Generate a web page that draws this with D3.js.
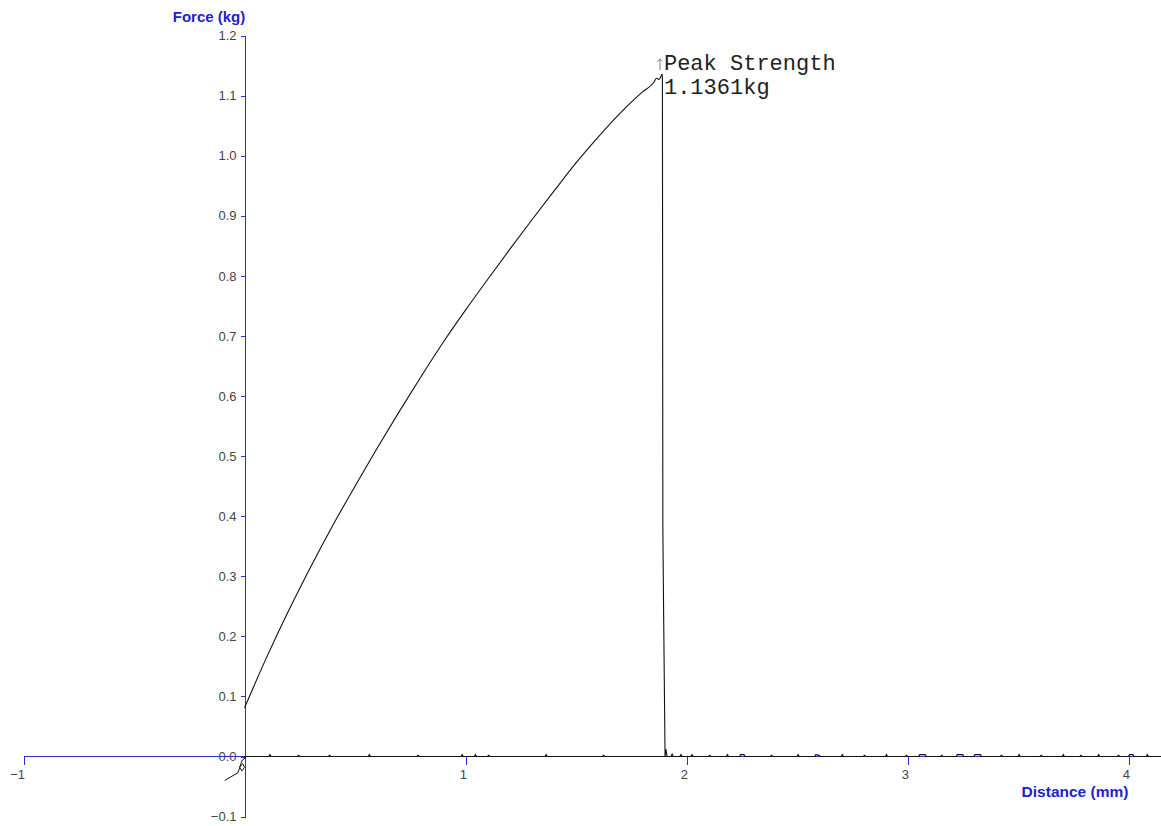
<!DOCTYPE html>
<html>
<head>
<meta charset="utf-8">
<script src="https://cdn.jsdelivr.net/npm/d3@7"></script>
<style>
  html, body { margin: 0; padding: 0; background: #ffffff; }
  svg { display: block; }
</style>
</head>
<body>
<svg id="chart" width="1161" height="826"></svg>
<script>
// ---- Data ----
const xTicks = [-1, 1, 2, 3, 4];
const yTicks = [-0.1, 0.0, 0.1, 0.2, 0.3, 0.4, 0.5, 0.6, 0.7, 0.8, 0.9, 1.0, 1.1, 1.2];

// Small start loop just below the origin
const loopDist  = [-0.09, -0.03, -0.02, -0.008, 0.0, -0.012, -0.022, -0.01, 0.005, 0.0];
const loopForce = [-0.04, -0.027, -0.017, -0.012, -0.018, -0.024, -0.018, -0.006, -0.002, 0.0];

// Loading curve up to the peak
const riseDist  = [0.0, 0.1, 0.2, 0.3, 0.4, 0.5, 0.6, 0.7, 0.8, 0.9, 1.0, 1.1, 1.2, 1.3,
  1.4, 1.5, 1.6, 1.7, 1.8, 1.85, 1.865, 1.875, 1.889];
const riseForce = [0.081, 0.165, 0.243, 0.316, 0.385, 0.450, 0.513, 0.574, 0.633, 0.690,
  0.743, 0.794, 0.844, 0.893, 0.941, 0.988, 1.031, 1.071, 1.106, 1.121, 1.129, 1.127, 1.1361];

// Sudden failure drop
const dropDist  = [1.889, 1.891, 1.893, 1.897, 1.903, 1.907, 1.912];
const dropForce = [1.1361, 1.13, 0.38, 0.22, 0.0, 0.012, 0.0];

// Near-zero trace along the distance axis
const baseDist = [0, 0.11, 0.115, 0.12, 0.24, 0.245, 0.25, 0.38, 0.385, 0.39, 0.56, 0.565, 0.57,
  0.78, 0.785, 0.79, 0.98, 0.985, 0.99, 1.04, 1.045, 1.05, 1.10, 1.105, 1.11, 1.36, 1.365, 1.37,
  1.62, 1.625, 1.63, 1.93, 1.935, 1.94, 1.97, 1.975, 1.98, 2.02, 2.025, 2.03, 2.10, 2.105, 2.11,
  2.18, 2.185, 2.19, 2.24, 2.245, 2.26, 2.265, 2.38, 2.385, 2.39, 2.50, 2.505, 2.51, 2.58, 2.585,
  2.60, 2.605, 2.70, 2.705, 2.71, 2.80, 2.805, 2.81, 2.90, 2.905, 2.91, 2.99, 2.995, 3.00, 3.05,
  3.055, 3.08, 3.085, 3.15, 3.155, 3.16, 3.22, 3.225, 3.25, 3.255, 3.30, 3.305, 3.33, 3.335,
  3.42, 3.425, 3.43, 3.50, 3.505, 3.51, 3.60, 3.605, 3.61, 3.70, 3.705, 3.71, 3.78, 3.785, 3.79,
  3.86, 3.865, 3.87, 3.95, 3.955, 3.96, 4.00, 4.005, 4.02, 4.025, 4.08, 4.085, 4.09, 4.15];
const baseForce = [0, 0, 0.003, 0, 0, 0.002, 0, 0, 0.002, 0, 0, 0.003, 0,
  0, 0.002, 0, 0, 0.003, 0, 0, 0.003, 0, 0, 0.002, 0, 0, 0.003, 0,
  0, 0.002, 0, 0, 0.004, 0, 0, 0.003, 0, 0, 0.003, 0, 0, 0.002, 0,
  0, 0.003, 0, 0, 0.003, 0.003, 0, 0, 0.002, 0, 0, 0.003, 0, 0, 0.003,
  0.002, 0, 0, 0.003, 0, 0, 0.002, 0, 0, 0.003, 0, 0, 0.002, 0, 0,
  0.003, 0.003, 0, 0, 0.002, 0, 0, 0.003, 0.003, 0, 0, 0.003, 0.003, 0,
  0, 0.002, 0, 0, 0.003, 0, 0, 0.002, 0, 0, 0.003, 0, 0, 0.002, 0,
  0, 0.003, 0, 0, 0.002, 0, 0, 0.003, 0.003, 0, 0, 0.003, 0, 0];

const peakDist = 1.889;
const peakForce = 1.1361;
const peakLines = ["Peak Strength", "1.1361kg"];
const yTitle = "Force (kg)";
const xTitle = "Distance (mm)";

// ---- Chart ----
const svg = d3.select("#chart");
const axisColor = "#2e2ecc";
const font = "Arial, 'Liberation Sans', sans-serif";

const x = d3.scaleLinear().domain([-1, 4]).range([23.5, 1128.5]);
const yStep = 60.077;               // pixels per 0.1 kg
const y = d3.scaleLinear().domain([0, 0.1]).range([756.5, 756.5 - yStep]);
const xMax = 4.147;
const x0 = Math.round(x(0)) + 0.5;

// Y axis (at distance 0)
const yAxis = svg.append("g")
  .attr("transform", `translate(${x0},0)`)
  .call(d3.axisLeft(y).tickValues(yTicks).tickSize(5).tickPadding(4)
    .tickFormat(d3.format(".1f")).tickSizeOuter(0));
yAxis.select(".domain").remove();
yAxis.append("line")
  .attr("x1", 0).attr("x2", 0)
  .attr("y1", y(1.2)).attr("y2", y(-0.1))
  .attr("stroke", axisColor);
yAxis.selectAll("line").attr("stroke", axisColor).attr("shape-rendering", "crispEdges");
yAxis.selectAll(".tick text")
  .attr("fill", "#444").style("font-family", font).style("font-size", "13px");

// X axis (at force 0)
const xAxis = svg.append("g")
  .attr("transform", `translate(0,${y(0)})`)
  .call(d3.axisBottom(x).tickValues(xTicks).tickSize(8).tickPadding(5)
    .tickFormat(d3.format("d")).tickSizeOuter(0));
xAxis.select(".domain").remove();
xAxis.append("line")
  .attr("x1", x(-1)).attr("x2", x(xMax))
  .attr("y1", 0).attr("y2", 0)
  .attr("stroke", axisColor);
xAxis.selectAll("line").attr("stroke", axisColor).attr("shape-rendering", "crispEdges");
xAxis.selectAll(".tick text")
  .attr("fill", "#444").attr("text-anchor", "end").attr("dx", "1")
  .style("font-family", font).style("font-size", "13px");

// Traces
const lin = d3.line().x(d => x(d[0])).y(d => y(d[1]));
const smooth = d3.line().x(d => x(d[0])).y(d => y(d[1])).curve(d3.curveMonotoneX);
const zip = (a, b) => a.map((d, i) => [d, b[i]]);

svg.append("path").datum(zip(baseDist, baseForce))
  .attr("d", lin).attr("fill", "none").attr("stroke", "#111").attr("stroke-width", 1.2);
svg.append("path").datum(zip(loopDist, loopForce))
  .attr("d", lin).attr("fill", "none").attr("stroke", "#111").attr("stroke-width", 1);
svg.append("path").datum(zip(riseDist, riseForce))
  .attr("d", smooth).attr("fill", "none").attr("stroke", "#111").attr("stroke-width", 1.1);
svg.append("path").datum(zip(dropDist, dropForce))
  .attr("d", lin).attr("fill", "none").attr("stroke", "#111").attr("stroke-width", 1.1);

// Peak marker + annotation
const px = x(peakDist), py = y(peakForce);
svg.append("path")
  .attr("d", `M${px - 2},${py - 4} L${px - 2},${py - 15} M${px - 5},${py - 12} L${px - 2},${py - 15} L${px},${py - 13}`)
  .attr("fill", "none").attr("stroke", "#8a7b6a").attr("stroke-width", 1);
const ann = svg.append("text")
  .attr("x", px + 2).attr("y", py - 4)
  .attr("fill", "#222")
  .style("font-family", "'Courier New', 'Liberation Mono', monospace")
  .style("font-size", "22px");
peakLines.forEach((t, i) => {
  ann.append("tspan").attr("x", px + 2).attr("dy", i === 0 ? 0 : 24).text(t);
});

// Axis titles
svg.append("text")
  .attr("x", 209).attr("y", 22)
  .attr("text-anchor", "middle")
  .attr("fill", "#2222cc")
  .style("font-family", font).style("font-weight", "bold").style("font-size", "15px")
  .text(yTitle);
svg.append("text")
  .attr("x", 1075).attr("y", 797)
  .attr("text-anchor", "middle")
  .attr("fill", "#2222cc")
  .style("font-family", font).style("font-weight", "bold").style("font-size", "15.5px")
  .text(xTitle);
</script>
</body>
</html>
